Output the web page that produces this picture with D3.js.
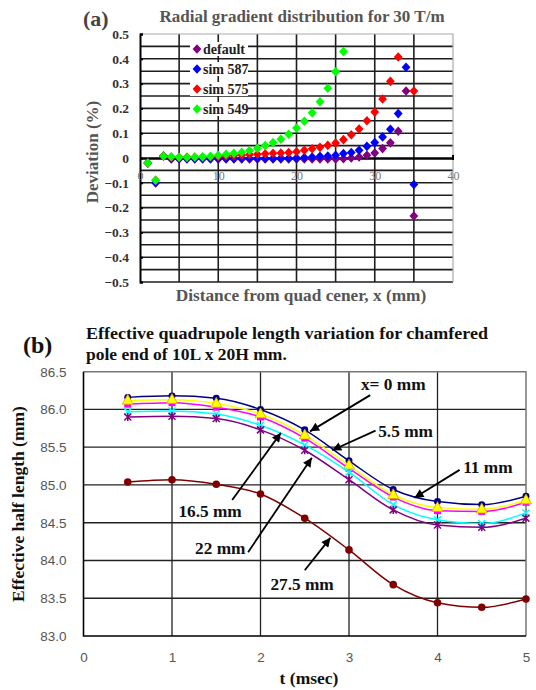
<!DOCTYPE html>
<html>
<head>
<meta charset="utf-8">
<script src="https://cdn.jsdelivr.net/npm/d3@7"></script>
<style>
  body { margin: 0; background: #fff; }
  svg { display: block; }
</style>
</head>
<body>
<div id="chart"></div>
<script>
// ---- data, panel (a): deviation (%) vs x (mm) ----
const defaultX = [1,2,3,4,5,6,7,8,9,10,11,12,13,14,15,16,17,18,19,20,21,22,23,24,25,26,27,28,29,30,31,32,33,34,35];
const defaultY = [-0.02,-0.1,0.008,-0.004,-0.004,-0.004,-0.004,-0.004,-0.004,-0.004,-0.004,-0.004,-0.004,-0.004,-0.004,-0.004,-0.004,-0.004,-0.004,-0.004,-0.004,-0.004,-0.004,-0.004,-0.004,-0.003,0.0,0.004,0.011,0.02,0.038,0.061,0.108,0.27,-0.234];
const sim587X = [1,2,3,4,5,6,7,8,9,10,11,12,13,14,15,16,17,18,19,20,21,22,23,24,25,26,27,28,29,30,31,32,33,34,35];
const sim587Y = [-0.02,-0.1,0.008,-0.002,-0.002,-0.002,-0.002,-0.002,-0.002,-0.002,-0.002,-0.002,-0.002,-0.002,-0.002,-0.002,-0.002,-0.001,-0.001,0.0,0.002,0.004,0.007,0.008,0.011,0.018,0.022,0.031,0.047,0.062,0.085,0.116,0.179,0.366,-0.107];
const sim575X = [1,2,3,4,5,6,7,8,9,10,11,12,13,14,15,16,17,18,19,20,21,22,23,24,25,26,27,28,29,30,31,32,33,35];
const sim575Y = [-0.02,-0.09,0.008,0.003,0.003,0.003,0.003,0.003,0.004,0.006,0.008,0.01,0.012,0.014,0.015,0.017,0.019,0.02,0.022,0.025,0.031,0.037,0.043,0.051,0.06,0.074,0.094,0.117,0.15,0.185,0.238,0.309,0.407,0.27];
const sim549X = [1,2,3,4,5,6,7,8,9,10,11,12,13,14,15,16,17,18,19,20,21,22,23,24,25,26];
const sim549Y = [-0.02,-0.09,0.008,0.005,0.003,0.003,0.004,0.005,0.007,0.011,0.015,0.019,0.023,0.03,0.039,0.05,0.062,0.076,0.096,0.121,0.148,0.182,0.227,0.281,0.348,0.429];
const seriesNamesA = ["default", "sim 587", "sim 575", "sim 549"];
const seriesColorsA = ["#800080", "#0000ff", "#ff0000", "#00ff00"];
const yTicksA = [0.5,0.4,0.3,0.2,0.1,0,-0.1,-0.2,-0.3,-0.4,-0.5];
const xTicksA = [0,10,20,30,40];

// ---- data, panel (b): effective half length (mm) vs t (msec) ----
const tValues = [0.5,1,1.5,2,2.5,3,3.5,4,4.5,5];
const len0 = [86.16,86.18,86.15,86.00,85.73,85.32,84.94,84.78,84.74,84.85];
const len55 = [86.12,86.13,86.08,85.94,85.66,85.26,84.87,84.70,84.68,84.80];
const len11 = [86.07,86.09,86.03,85.90,85.62,85.22,84.84,84.66,84.65,84.77];
const len165 = [85.97,85.98,85.94,85.79,85.53,85.17,84.74,84.54,84.49,84.63];
const len22 = [85.90,85.91,85.88,85.73,85.46,85.07,84.67,84.47,84.44,84.56];
const len275 = [85.04,85.07,85.01,84.88,84.56,84.14,83.68,83.44,83.38,83.49];
const yTicksB = [83.0,83.5,84.0,84.5,85.0,85.5,86.0,86.5];
const xTicksB = [0,1,2,3,4,5];
// annotation: label, arrow head (t, len), arrow tail (t, len), label (t, len), anchor
const notesB = [
    {label: "x= 0 mm", head: [2.56, 85.71], tail: [3.24, 86.19], at: [3.50, 86.26], anchor: "middle"},
    {label: "5.5 mm", head: [2.81, 85.46], tail: [3.30, 85.72], at: [3.33, 85.64], anchor: "start"},
    {label: "11 mm", head: [3.74, 84.83], tail: [4.25, 85.20], at: [4.29, 85.16], anchor: "start"},
    {label: "16.5 mm", head: [2.23, 85.69], tail: [1.68, 84.80], at: [1.43, 84.58], anchor: "middle"},
    {label: "22 mm", head: [2.58, 85.36], tail: [1.86, 84.11], at: [1.83, 84.09], anchor: "end"},
    {label: "27.5 mm", head: [2.79, 84.30], tail: [2.50, 83.87], at: [2.47, 83.61], anchor: "middle"}
];

const serif = "'Liberation Serif', 'Times New Roman', serif";
const sans = "'Liberation Sans', Arial, sans-serif";

const svg = d3.select("#chart").append("svg")
    .attr("width", 536)
    .attr("height", 690);

/* ===================== panel (a) ===================== */
const xA = d3.scaleLinear().domain([0, 40]).range([140, 453]);
const yA = d3.scaleLinear().domain([-0.5, 0.5]).range([282, 34]);
const gA = svg.append("g").attr("class", "panel-a");

// gridlines
gA.append("g").selectAll("line")
    .data(yA.ticks(20).filter(d => Math.abs(d) > 1e-9 && d < 0.49))
    .enter().append("line")
    .attr("x1", xA(0)).attr("x2", xA(40))
    .attr("y1", d => yA(d)).attr("y2", d => yA(d))
    .style("stroke", "#1e1e1e").style("stroke-width", 1.6);
gA.append("g").selectAll("line")
    .data(xA.ticks(8).filter(d => d > 0 && d < 40))
    .enter().append("line")
    .attr("x1", d => xA(d)).attr("x2", d => xA(d))
    .attr("y1", yA(0.5)).attr("y2", yA(-0.5))
    .style("stroke", "#1e1e1e").style("stroke-width", 1.6);

// plot border (top/right light)
gA.append("path")
    .attr("d", `M${xA(0)},${yA(0.5)}H${xA(40)}V${yA(-0.5)}`)
    .style("fill", "none").style("stroke", "#aaa").style("stroke-width", 1.2);

// left axis
const yAxisA = d3.axisLeft(yA).tickValues(yTicksA).tickSize(-3)
    .tickFormat(d => d === 0 ? "0" : d3.format(".1f")(d));
const yAxG = gA.append("g").attr("transform", `translate(${xA(0)},0)`).call(yAxisA);
yAxG.select(".domain").style("stroke", "#000").style("stroke-width", 2);
yAxG.selectAll(".tick line").style("stroke", "#000").style("stroke-width", 2);
yAxG.selectAll(".tick text")
    .attr("x", -11)
    .style("font-family", serif).style("font-size", "13.5px").style("font-weight", "bold")
    .style("fill", "#333");

// zero line with x labels
const xAxisA = d3.axisBottom(xA).tickValues(xTicksA).tickSize(0).tickPadding(13);
const xAxG = gA.append("g").attr("transform", `translate(0,${yA(0)})`).call(xAxisA);
xAxG.select(".domain").style("stroke", "#000").style("stroke-width", 2.6);
xAxG.selectAll(".tick text")
    .style("font-family", serif).style("font-size", "12px")
    .style("fill", "#777");
gA.append("line")
    .attr("x1", xA(40)).attr("x2", xA(40))
    .attr("y1", yA(0) - 3).attr("y2", yA(0) + 2)
    .style("stroke", "#000").style("stroke-width", 2);

// points
const diamond = "M0,-4.8L4.4,0L0,4.8L-4.4,0Z";
const seriesA = [
    {xs: defaultX, ys: defaultY},
    {xs: sim587X, ys: sim587Y},
    {xs: sim575X, ys: sim575Y},
    {xs: sim549X, ys: sim549Y}
];
seriesA.forEach((s, i) => {
    gA.append("g").selectAll("path")
        .data(s.xs.map((x, j) => [x, s.ys[j]]))
        .enter().append("path")
        .attr("d", diamond)
        .attr("transform", d => `translate(${xA(d[0])},${yA(d[1])})`)
        .style("fill", seriesColorsA[i]);
});

// legend
const legA = gA.append("g").attr("class", "legend");
seriesNamesA.forEach((name, i) => {
    const yy = 49 + i * 20;
    legA.append("rect")
        .attr("x", 190).attr("y", yy - 7).attr("width", 58).attr("height", 14)
        .style("fill", "#fff");
    legA.append("path")
        .attr("d", diamond)
        .attr("transform", `translate(197,${yy})`)
        .style("fill", seriesColorsA[i]);
    legA.append("text")
        .attr("x", 203).attr("y", yy + 4.5)
        .text(name)
        .style("font-family", serif).style("font-size", "14px").style("font-weight", "bold")
        .style("fill", "#222");
});

// titles
gA.append("text").text("(a)")
    .attr("x", 83).attr("y", 26)
    .style("font-family", serif).style("font-size", "22px").style("font-weight", "bold")
    .style("fill", "#444");
gA.append("text").text("Radial gradient distribution for 30 T/m")
    .attr("x", 302).attr("y", 22).attr("text-anchor", "middle")
    .style("font-family", serif).style("font-size", "17px").style("font-weight", "bold")
    .style("fill", "#555");
gA.append("text").text("Deviation (%)")
    .attr("transform", `translate(98,152) rotate(-90)`).attr("text-anchor", "middle")
    .style("font-family", serif).style("font-size", "17px").style("font-weight", "bold")
    .style("fill", "#555");
gA.append("text").text("Distance from quad cener, x (mm)")
    .attr("x", 301).attr("y", 301).attr("text-anchor", "middle")
    .style("font-family", serif).style("font-size", "17.3px").style("font-weight", "bold")
    .style("fill", "#555");

/* ===================== panel (b) ===================== */
const xB = d3.scaleLinear().domain([0, 5]).range([83.5, 526]);
const yB = d3.scaleLinear().domain([83, 86.5]).range([636, 371.7]);
const gB = svg.append("g").attr("class", "panel-b");

gB.append("g").selectAll("line")
    .data(yTicksB.slice(1, -1))
    .enter().append("line")
    .attr("x1", xB(0)).attr("x2", xB(5))
    .attr("y1", d => yB(d)).attr("y2", d => yB(d))
    .style("stroke", "#222").style("stroke-width", 1.3);
gB.append("g").selectAll("line")
    .data(xTicksB.slice(1, -1))
    .enter().append("line")
    .attr("x1", d => xB(d)).attr("x2", d => xB(d))
    .attr("y1", yB(86.5)).attr("y2", yB(83))
    .style("stroke", "#222").style("stroke-width", 1.3);
gB.append("path")
    .attr("d", `M${xB(0)},${yB(86.5)}H${xB(5)}V${yB(83)}`)
    .style("fill", "none").style("stroke", "#777").style("stroke-width", 1.5);
gB.append("path")
    .attr("d", `M${xB(0)},${yB(86.5)}V${yB(83)}H${xB(5)}`)
    .style("fill", "none").style("stroke", "#000").style("stroke-width", 1.6);

const yAxisB = d3.axisLeft(yB).tickValues(yTicksB).tickSize(0).tickPadding(17)
    .tickFormat(d3.format(".1f"));
const yBxG = gB.append("g").attr("transform", `translate(${xB(0)},0)`).call(yAxisB);
yBxG.select(".domain").remove();
yBxG.selectAll(".tick text")
    .style("font-family", sans).style("font-size", "13.5px").style("fill", "#555");

const xAxisB = d3.axisBottom(xB).tickValues(xTicksB).tickSize(0).tickPadding(16)
    .tickFormat(d3.format("d"));
const xBxG = gB.append("g").attr("transform", `translate(0,${yB(83)})`).call(xAxisB);
xBxG.select(".domain").remove();
xBxG.selectAll(".tick text")
    .style("font-family", sans).style("font-size", "13.5px").style("fill", "#555");

// lines + markers
const seriesB = [
    {ys: len0, color: "#000080", marker: "circle"},
    {ys: len11, color: "#ff00ff", marker: "square"},
    {ys: len55, color: "#ffff00", marker: "triangle"},
    {ys: len165, color: "#00ffff", marker: "cross"},
    {ys: len22, color: "#800080", marker: "star"},
    {ys: len275, color: "#800000", marker: "dot"}
];
const lineB = d3.line()
    .x(d => xB(d[0])).y(d => yB(d[1]))
    .curve(d3.curveMonotoneX);

seriesB.forEach(s => {
    const pts = tValues.map((t, j) => [t, s.ys[j]]);
    gB.append("path")
        .datum(pts)
        .attr("d", lineB)
        .style("fill", "none").style("stroke", s.color).style("stroke-width", 1.5);
    const m = gB.append("g").selectAll("g")
        .data(pts).enter().append("g")
        .attr("transform", d => `translate(${xB(d[0])},${yB(d[1])})`);
    if (s.marker === "circle") {
        m.append("path").attr("d", d3.symbol(d3.symbolCircle, 38)).style("fill", s.color);
    } else if (s.marker === "dot") {
        m.append("circle").attr("r", 3.8).style("fill", s.color);
    } else if (s.marker === "square") {
        m.append("rect").attr("x", -3.5).attr("y", -3.5).attr("width", 7).attr("height", 7)
            .style("fill", s.color);
    } else if (s.marker === "triangle") {
        m.append("path").attr("d", "M0,-6L5.5,3.8L-5.5,3.8Z")
            .style("fill", s.color).style("stroke", "#e0a000").style("stroke-width", 0.8);
    } else if (s.marker === "cross") {
        m.append("path").attr("d", "M-3.5,-3.5L3.5,3.5M3.5,-3.5L-3.5,3.5")
            .style("stroke", s.color).style("stroke-width", 1.5);
    } else if (s.marker === "star") {
        m.append("path").attr("d", "M-3.5,-3.5L3.5,3.5M3.5,-3.5L-3.5,3.5M0,-4V4")
            .style("stroke", s.color).style("stroke-width", 1.5);
    }
});

// annotations
svg.append("defs").append("marker")
    .attr("id", "arrowhead")
    .attr("viewBox", "0 0 10 10")
    .attr("refX", 10).attr("refY", 5)
    .attr("markerWidth", 7).attr("markerHeight", 5)
    .attr("markerUnits", "strokeWidth")
    .attr("orient", "auto")
    .append("path").attr("d", "M0,0L10,5L0,10Z").style("fill", "#000");

notesB.forEach(n => {
    gB.append("line")
        .attr("x1", xB(n.tail[0])).attr("y1", yB(n.tail[1]))
        .attr("x2", xB(n.head[0])).attr("y2", yB(n.head[1]))
        .attr("marker-end", "url(#arrowhead)")
        .style("stroke", "#000").style("stroke-width", 1.8);
    gB.append("text")
        .attr("x", xB(n.at[0])).attr("y", yB(n.at[1]))
        .attr("text-anchor", n.anchor)
        .text(n.label)
        .style("font-family", serif).style("font-size", "17.3px").style("font-weight", "bold")
        .style("fill", "#111");
});

// titles
gB.append("text").text("(b)")
    .attr("x", 23).attr("y", 353)
    .style("font-family", serif).style("font-size", "24px").style("font-weight", "bold")
    .style("fill", "#111");
gB.append("text").text("Effective quadrupole length variation for chamfered")
    .attr("x", 86).attr("y", 339)
    .attr("textLength", 402).attr("lengthAdjust", "spacingAndGlyphs")
    .style("font-family", serif).style("font-size", "17.5px").style("font-weight", "bold")
    .style("fill", "#111");
gB.append("text").text("pole end of 10L x 20H mm.")
    .attr("x", 86).attr("y", 360)
    .style("font-family", serif).style("font-size", "17.5px").style("font-weight", "bold")
    .style("fill", "#111");
gB.append("text").text("Effective half length (mm)")
    .attr("transform", `translate(24,504) rotate(-90)`).attr("text-anchor", "middle")
    .style("font-family", serif).style("font-size", "17.5px").style("font-weight", "bold")
    .style("fill", "#111");
gB.append("text").text("t (msec)")
    .attr("x", 309).attr("y", 684).attr("text-anchor", "middle")
    .style("font-family", serif).style("font-size", "17.5px").style("font-weight", "bold")
    .style("fill", "#111");
</script>
</body>
</html>
